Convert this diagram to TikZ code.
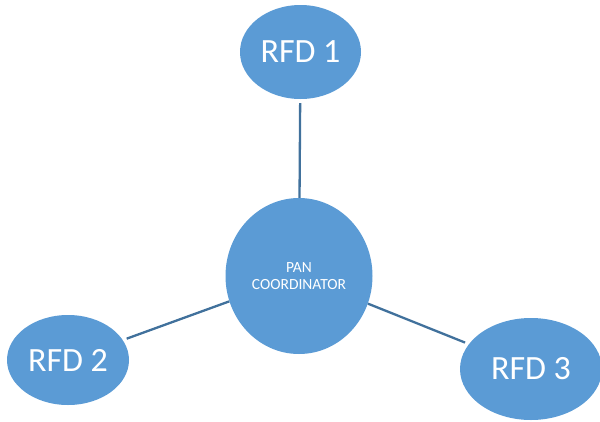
\documentclass[tikz,border=0pt]{standalone}
\usepackage{fontspec}
\setmainfont{Carlito}
\usetikzlibrary{shapes.geometric}
\definecolor{nodeblue}{HTML}{5B9BD5}
\definecolor{linkblue}{HTML}{41719C}
\begin{document}
\begin{tikzpicture}[x=1pt,y=-1pt,
  device/.style={ellipse, fill=nodeblue, text=white, inner sep=0pt,
    font=\fontsize{34}{40}\selectfont},
  coord/.style={ellipse, fill=nodeblue, text=white, inner sep=0pt,
    align=center, font=\fontsize{15.5}{17.5}\selectfont},
  link/.style={draw=linkblue, line width=2.3pt, shorten <=4pt}]
\useasboundingbox (0,0) rectangle (600,421);
\node[coord, minimum width=147, minimum height=156] (pan) at (299,276) {PAN\\COORDINATOR};
\node[device, minimum width=121, minimum height=94] (rfd1) at (300.5,52) {RFD 1};
\node[device, minimum width=122, minimum height=90] (rfd2) at (68,360) {RFD 2};
\node[device, minimum width=142, minimum height=102] (rfd3) at (531,369) {RFD 3};
\draw[link] (rfd1) -- (pan);
\draw[link] (rfd2) -- (pan);
\draw[link] (rfd3) -- (pan);
\end{tikzpicture}
\end{document}
